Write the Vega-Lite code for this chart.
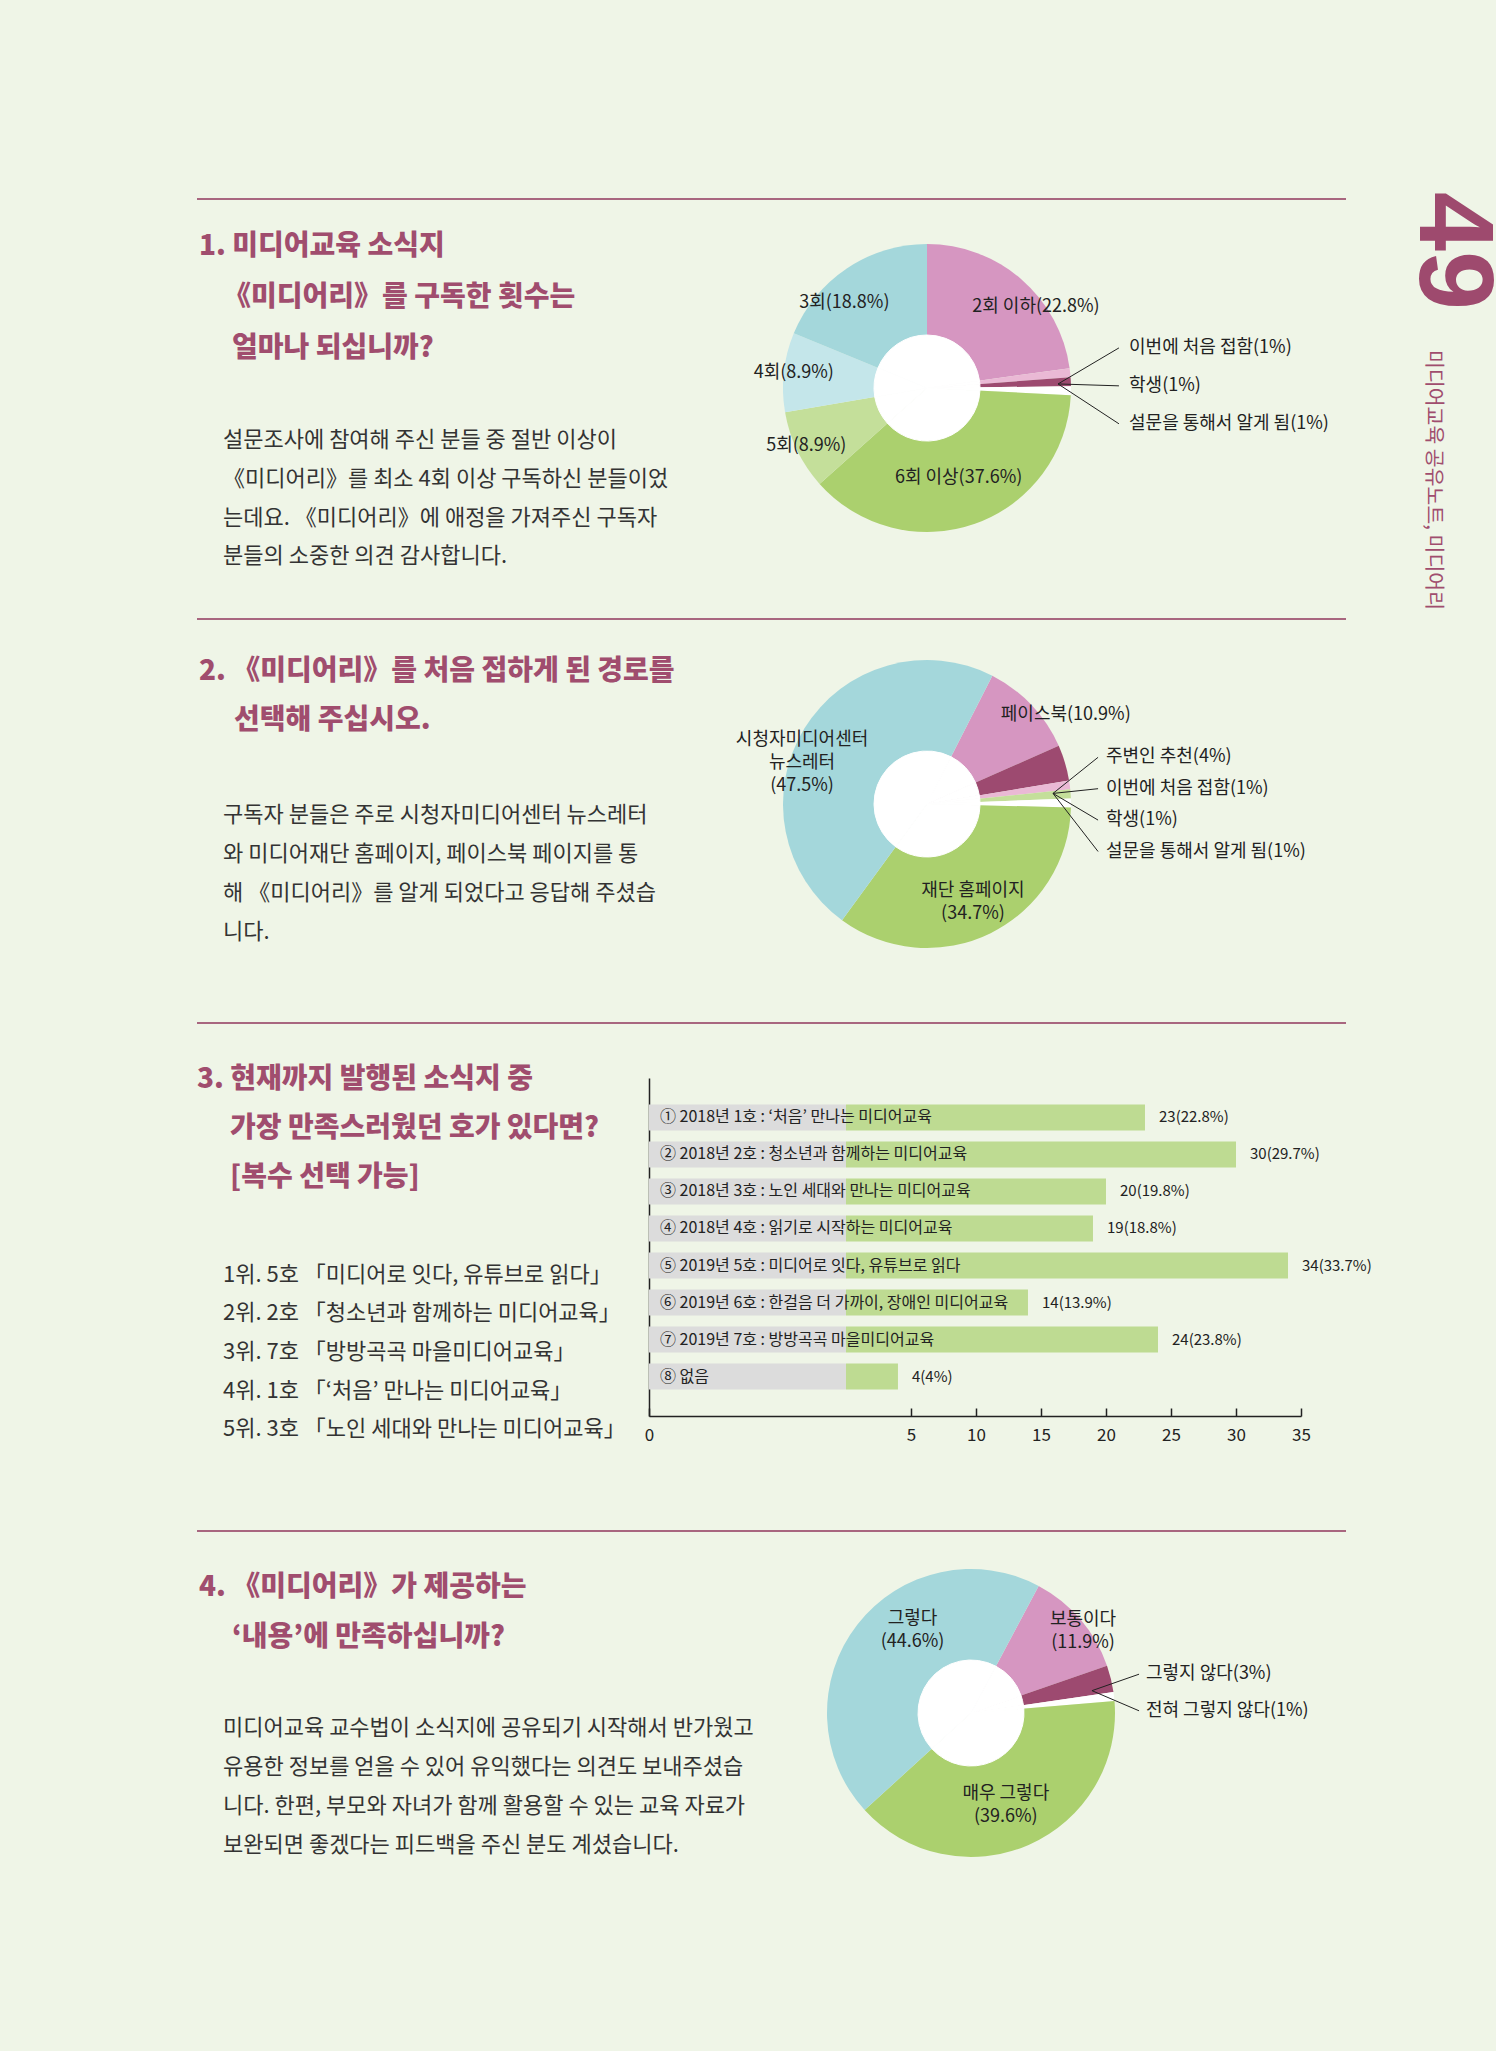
{
  "$schema": "https://vega.github.io/schema/vega-lite/v6.json",
  "background": "#eff5e7",
  "padding": {"left": 196, "top": 0, "right": 0, "bottom": 0},
  "config": {"view": {"stroke": null}, "font": "Noto Sans CJK KR"},
  "spacing": 0,
  "resolve": {"scale": {"color": "independent", "theta": "independent", "x": "independent", "y": "independent"}},
  "hconcat": [
    {
      "spacing": 0,
      "resolve": {"scale": {"color": "independent", "theta": "independent", "x": "independent", "y": "independent"}},
      "vconcat": [
        {
          "width": 1190, "height": 200,
          "data": {"values": [{"k": 1}]},
          "mark": {"type": "rule", "color": "#a8667f", "strokeWidth": 2},
          "encoding": {
            "x": {"datum": 0, "type": "quantitative", "scale": {"domain": [0, 1]}, "axis": null},
            "x2": {"datum": 0.96555},
            "y": {"datum": 0.005, "type": "quantitative", "scale": {"domain": [0, 1]}, "axis": null}
          }
        },
        {
          "spacing": 0,
          "resolve": {"scale": {"color": "independent", "theta": "independent", "x": "independent", "y": "independent"}},
          "hconcat": [
            {
              "spacing": 0,
              "resolve": {"scale": {"x": "independent", "y": "independent"}},
              "vconcat": [
                {
                  "width": 490, "height": 190,
                  "data": {"values": [
                    {"line": 1, "text": "1. 미디어교육 소식지"},
                    {"line": 2, "text": "《미디어리》를 구독한 횟수는"},
                    {"line": 3, "text": "얼마나 되십니까?"}
                  ]},
                  "encoding": {
                    "x": {"datum": 0, "type": "quantitative", "scale": {"domain": [0, 1]}, "axis": null},
                    "y": {"field": "line", "type": "quantitative", "scale": {"domain": [0.082, 3.7929], "reverse": true, "nice": false, "zero": false}, "axis": null},
                    "text": {"field": "text", "type": "nominal"}
                  },
                  "layer": [
                    {"transform": [{"filter": "datum.line === 1"}], "mark": {"type": "text", "align": "left", "baseline": "middle", "fontSize": 28, "fontWeight": 900, "color": "#a04d6e", "dx": 2}},
                    {"transform": [{"filter": "datum.line === 2"}], "mark": {"type": "text", "align": "left", "baseline": "middle", "fontSize": 28, "fontWeight": 900, "color": "#a04d6e", "dx": 26}},
                    {"transform": [{"filter": "datum.line === 3"}], "mark": {"type": "text", "align": "left", "baseline": "middle", "fontSize": 28, "fontWeight": 900, "color": "#a04d6e", "dx": 35}}
                  ]
                },
                {
                  "width": 490, "height": 228,
                  "data": {"values": [
                    {"line": 1, "text": "설문조사에 참여해 주신 분들 중 절반 이상이"},
                    {"line": 2, "text": "《미디어리》를 최소 4회 이상 구독하신 분들이었"},
                    {"line": 3, "text": "는데요. 《미디어리》에 애정을 가져주신 구독자"},
                    {"line": 4, "text": "분들의 소중한 의견 감사합니다."}
                  ]},
                  "mark": {"type": "text", "align": "left", "baseline": "middle", "fontSize": 22, "color": "#333333", "dx": 26},
                  "encoding": {
                    "x": {"datum": 0, "type": "quantitative", "scale": {"domain": [0, 1]}, "axis": null},
                    "y": {"field": "line", "type": "quantitative", "scale": {"domain": [-0.2861, 5.5902], "reverse": true, "nice": false, "zero": false}, "axis": null},
                    "text": {"field": "text", "type": "nominal"}
                  }
                }
              ]
            },
            {
              "width": 480, "height": 376,
              "data": {"values": [
                {"i": 1, "name": "2회 이하", "pct": 22.8, "label": "2회 이하(22.8%)"},
                {"i": 2, "name": "이번에 처음 접함", "pct": 1, "label": "이번에 처음 접함(1%)"},
                {"i": 3, "name": "학생", "pct": 1, "label": "학생(1%)"},
                {"i": 4, "name": "설문을 통해서 알게 됨", "pct": 1, "label": "설문을 통해서 알게 됨(1%)"},
                {"i": 5, "name": "6회 이상", "pct": 37.6, "label": "6회 이상(37.6%)"},
                {"i": 6, "name": "5회", "pct": 8.9, "label": "5회(8.9%)"},
                {"i": 7, "name": "4회", "pct": 8.9, "label": "4회(8.9%)"},
                {"i": 8, "name": "3회", "pct": 18.8, "label": "3회(18.8%)"}
              ]},
              "layer": [
                {
                  "mark": {"type": "arc", "radius": 144},
                  "encoding": {
                    "theta": {"field": "pct", "type": "quantitative", "stack": true, "scale": {"range": [0, 6.2832]}},
                    "order": {"field": "i", "type": "quantitative"},
                    "color": {"field": "name", "type": "nominal", "legend": null, "scale": {
                      "domain": ["2회 이하", "이번에 처음 접함", "학생", "설문을 통해서 알게 됨", "6회 이상", "5회", "4회", "3회"],
                      "range": ["#d696c1", "#eab9d5", "#9d4a70", "#ffffff", "#abd06e", "#c4df9a", "#c4e6ea", "#a4d7db"]
                    }}
                  }
                },
                {
                  "mark": {"type": "arc", "radius": 53, "color": "#ffffff", "stroke": "#ffffff", "strokeWidth": 1},
                  "encoding": {
                    "theta": {"field": "pct", "type": "quantitative", "stack": true},
                    "order": {"field": "i", "type": "quantitative"}
                  }
                },
                {
                  "mark": {"type": "text", "radius": 134, "fontSize": 18, "color": "#222222"},
                  "encoding": {
                    "theta": {"field": "pct", "type": "quantitative", "stack": true},
                    "order": {"field": "i", "type": "quantitative"},
                    "text": {"condition": {"test": "indexof(['5회','4회'], datum.name) < 0", "value": ""}, "field": "label", "type": "nominal"}
                  }
                },
                {
                  "mark": {"type": "text", "radius": 134, "dx": 21, "dy": 20, "fontSize": 18, "color": "#222222"},
                  "encoding": {
                    "theta": {"field": "pct", "type": "quantitative", "stack": true},
                    "order": {"field": "i", "type": "quantitative"},
                    "text": {"condition": {"test": "datum.name !== '2회 이하'", "value": ""}, "field": "label", "type": "nominal"}
                  }
                },
                {
                  "mark": {"type": "text", "radius": 134, "dx": -8, "dy": 26, "fontSize": 18, "color": "#222222"},
                  "encoding": {
                    "theta": {"field": "pct", "type": "quantitative", "stack": true},
                    "order": {"field": "i", "type": "quantitative"},
                    "text": {"condition": {"test": "datum.name !== '3회'", "value": ""}, "field": "label", "type": "nominal"}
                  }
                },
                {
                  "mark": {"type": "text", "radius": 95, "fontSize": 18, "color": "#222222"},
                  "encoding": {
                    "theta": {"field": "pct", "type": "quantitative", "stack": true},
                    "order": {"field": "i", "type": "quantitative"},
                    "text": {"condition": {"test": "datum.name !== '6회 이상'", "value": ""}, "field": "label", "type": "nominal"}
                  }
                },
                {
                  "transform": [{"filter": {"field": "name", "oneOf": ["이번에 처음 접함", "학생", "설문을 통해서 알게 됨"]}}],
                  "mark": {"type": "text", "align": "left", "baseline": "middle", "fontSize": 18, "color": "#222222"},
                  "encoding": {
                    "x": {"datum": 1.403, "type": "quantitative", "scale": {"domain": [-1.6667, 1.6667], "nice": false, "zero": false}, "axis": null},
                    "y": {"field": "i", "type": "quantitative", "scale": {"domain": [-1.8972, 8.0106], "reverse": true, "nice": false, "zero": false}, "axis": null},
                    "text": {"field": "label", "type": "nominal"}
                  }
                },
                {
                  "transform": [{"filter": {"field": "name", "oneOf": ["이번에 처음 접함", "학생", "설문을 통해서 알게 됨"]}}],
                  "mark": {"type": "rule", "color": "#222222", "strokeWidth": 1},
                  "encoding": {
                    "x": {"datum": 1.333, "type": "quantitative"},
                    "x2": {"datum": 0.91},
                    "y": {"field": "i", "type": "quantitative"},
                    "y2": {"datum": 2.95}
                  }
                }
              ]
            }
          ]
        },
        {
          "width": 1190, "height": 2,
          "data": {"values": [{"k": 1}]},
          "mark": {"type": "rule", "color": "#a8667f", "strokeWidth": 2},
          "encoding": {
            "x": {"datum": 0, "type": "quantitative", "scale": {"domain": [0, 1]}, "axis": null},
            "x2": {"datum": 0.96555},
            "y": {"datum": 0.5, "type": "quantitative", "scale": {"domain": [0, 1]}, "axis": null}
          }
        },
        {
          "spacing": 0,
          "resolve": {"scale": {"color": "independent", "theta": "independent", "x": "independent", "y": "independent"}},
          "hconcat": [
            {
              "spacing": 0,
              "resolve": {"scale": {"x": "independent", "y": "independent"}},
              "vconcat": [
                {
                  "width": 510, "height": 150,
                  "data": {"values": [
                    {"line": 1, "text": "2. 《미디어리》를 처음 접하게 된 경로를"},
                    {"line": 2, "text": "선택해 주십시오."}
                  ]},
                  "encoding": {
                    "x": {"datum": 0, "type": "quantitative", "scale": {"domain": [0, 1]}, "axis": null},
                    "y": {"field": "line", "type": "quantitative", "scale": {"domain": [-0.0402, 2.9779], "reverse": true, "nice": false, "zero": false}, "axis": null},
                    "text": {"field": "text", "type": "nominal"}
                  },
                  "layer": [
                    {"transform": [{"filter": "datum.line === 1"}], "mark": {"type": "text", "align": "left", "baseline": "middle", "fontSize": 28, "fontWeight": 900, "color": "#a04d6e", "dx": 2}},
                    {"transform": [{"filter": "datum.line > 1"}], "mark": {"type": "text", "align": "left", "baseline": "middle", "fontSize": 28, "fontWeight": 900, "color": "#a04d6e", "dx": 37}}
                  ]
                },
                {
                  "width": 510, "height": 252,
                  "data": {"values": [
                    {"line": 1, "text": "구독자 분들은 주로 시청자미디어센터 뉴스레터"},
                    {"line": 2, "text": "와 미디어재단 홈페이지, 페이스북 페이지를 통"},
                    {"line": 3, "text": "해 《미디어리》를 알게 되었다고 응답해 주셨습"},
                    {"line": 4, "text": "니다."}
                  ]},
                  "mark": {"type": "text", "align": "left", "baseline": "middle", "fontSize": 22, "color": "#333333", "dx": 26},
                  "encoding": {
                    "x": {"datum": 0, "type": "quantitative", "scale": {"domain": [0, 1]}, "axis": null},
                    "y": {"field": "line", "type": "quantitative", "scale": {"domain": [-0.1454, 6.2832], "reverse": true, "nice": false, "zero": false}, "axis": null},
                    "text": {"field": "text", "type": "nominal"}
                  }
                }
              ]
            },
            {
              "width": 440, "height": 368,
              "data": {"values": [
                {"i": 1, "name": "페이스북", "pct": 10.9, "label": "페이스북(10.9%)"},
                {"i": 2, "name": "주변인 추천", "pct": 4, "label": "주변인 추천(4%)"},
                {"i": 3, "name": "이번에 처음 접함", "pct": 1, "label": "이번에 처음 접함(1%)"},
                {"i": 4, "name": "학생", "pct": 1, "label": "학생(1%)"},
                {"i": 5, "name": "설문을 통해서 알게 됨", "pct": 1, "label": "설문을 통해서 알게 됨(1%)"},
                {"i": 6, "name": "재단 홈페이지", "pct": 34.7, "label": "재단 홈페이지\n(34.7%)"},
                {"i": 7, "name": "시청자미디어센터 뉴스레터", "pct": 47.5, "label": "시청자미디어센터\n뉴스레터\n(47.5%)"}
              ]},
              "layer": [
                {
                  "mark": {"type": "arc", "radius": 144},
                  "encoding": {
                    "theta": {"field": "pct", "type": "quantitative", "stack": true, "scale": {"range": [0.471, 6.7542]}},
                    "order": {"field": "i", "type": "quantitative"},
                    "color": {"field": "name", "type": "nominal", "legend": null, "scale": {
                      "domain": ["페이스북", "주변인 추천", "이번에 처음 접함", "학생", "설문을 통해서 알게 됨", "재단 홈페이지", "시청자미디어센터 뉴스레터"],
                      "range": ["#d696c1", "#9d4a70", "#eab9d5", "#c4df9a", "#ffffff", "#abd06e", "#a4d7db"]
                    }}
                  }
                },
                {
                  "mark": {"type": "arc", "radius": 53, "color": "#ffffff", "stroke": "#ffffff", "strokeWidth": 1},
                  "encoding": {
                    "theta": {"field": "pct", "type": "quantitative", "stack": true},
                    "order": {"field": "i", "type": "quantitative"}
                  }
                },
                {
                  "mark": {"type": "text", "radius": 122, "dx": -21, "fontSize": 18, "color": "#222222", "lineBreak": "\n", "lineHeight": 23},
                  "encoding": {
                    "theta": {"field": "pct", "type": "quantitative", "stack": true},
                    "order": {"field": "i", "type": "quantitative"},
                    "text": {"condition": {"test": "datum.name !== '시청자미디어센터 뉴스레터'", "value": ""}, "field": "label", "type": "nominal"}
                  }
                },
                {
                  "mark": {"type": "text", "radius": 122, "dx": -8, "dy": -22, "fontSize": 18, "color": "#222222", "lineBreak": "\n", "lineHeight": 23},
                  "encoding": {
                    "theta": {"field": "pct", "type": "quantitative", "stack": true},
                    "order": {"field": "i", "type": "quantitative"},
                    "text": {"condition": {"test": "datum.name !== '재단 홈페이지'", "value": ""}, "field": "label", "type": "nominal"}
                  }
                },
                {
                  "mark": {"type": "text", "radius": 158, "dx": 24, "dy": 20, "fontSize": 18, "color": "#222222"},
                  "encoding": {
                    "theta": {"field": "pct", "type": "quantitative", "stack": true},
                    "order": {"field": "i", "type": "quantitative"},
                    "text": {"condition": {"test": "datum.name !== '페이스북'", "value": ""}, "field": "label", "type": "nominal"}
                  }
                },
                {
                  "transform": [{"filter": {"field": "name", "oneOf": ["주변인 추천", "이번에 처음 접함", "학생", "설문을 통해서 알게 됨"]}}],
                  "mark": {"type": "text", "align": "left", "baseline": "middle", "fontSize": 18, "color": "#222222"},
                  "encoding": {
                    "x": {"datum": 1.243, "type": "quantitative", "scale": {"domain": [-1.5278, 1.5278], "nice": false, "zero": false}, "axis": null},
                    "y": {"field": "i", "type": "quantitative", "scale": {"domain": [-2.3726, 9.3471], "reverse": true, "nice": false, "zero": false}, "axis": null},
                    "text": {"field": "label", "type": "nominal"}
                  }
                },
                {
                  "transform": [{"filter": {"field": "name", "oneOf": ["주변인 추천", "이번에 처음 접함", "학생", "설문을 통해서 알게 됨"]}}],
                  "mark": {"type": "rule", "color": "#222222", "strokeWidth": 1},
                  "encoding": {
                    "x": {"datum": 1.188, "type": "quantitative"},
                    "x2": {"datum": 0.875},
                    "y": {"field": "i", "type": "quantitative"},
                    "y2": {"datum": 3.15}
                  }
                }
              ]
            }
          ]
        },
        {
          "width": 1190, "height": 2,
          "data": {"values": [{"k": 1}]},
          "mark": {"type": "rule", "color": "#a8667f", "strokeWidth": 2},
          "encoding": {
            "x": {"datum": 0, "type": "quantitative", "scale": {"domain": [0, 1]}, "axis": null},
            "x2": {"datum": 0.96555},
            "y": {"datum": 0.5, "type": "quantitative", "scale": {"domain": [0, 1]}, "axis": null}
          }
        },
        {
          "spacing": 0,
          "resolve": {"scale": {"color": "independent", "theta": "independent", "x": "independent", "y": "independent"}},
          "hconcat": [
            {
              "spacing": 0,
              "resolve": {"scale": {"x": "independent", "y": "independent"}},
              "vconcat": [
                {
                  "width": 447, "height": 200,
                  "data": {"values": [
                    {"line": 1, "text": "3. 현재까지 발행된 소식지 중"},
                    {"line": 2, "text": "가장 만족스러웠던 호가 있다면?"},
                    {"line": 3, "text": "[복수 선택 가능]"}
                  ]},
                  "encoding": {
                    "x": {"datum": 0, "type": "quantitative", "scale": {"domain": [0, 1]}, "axis": null},
                    "y": {"field": "line", "type": "quantitative", "scale": {"domain": [-0.1498, 3.9277], "reverse": true, "nice": false, "zero": false}, "axis": null},
                    "text": {"field": "text", "type": "nominal"}
                  },
                  "layer": [
                    {"transform": [{"filter": "datum.line === 1"}], "mark": {"type": "text", "align": "left", "baseline": "middle", "fontSize": 28, "fontWeight": 900, "color": "#a04d6e"}},
                    {"transform": [{"filter": "datum.line > 1"}], "mark": {"type": "text", "align": "left", "baseline": "middle", "fontSize": 28, "fontWeight": 900, "color": "#a04d6e", "dx": 33}}
                  ]
                },
                {
                  "width": 447, "height": 306,
                  "data": {"values": [
                    {"line": 1, "text": "1위. 5호 「미디어로 잇다, 유튜브로 읽다」"},
                    {"line": 2, "text": "2위. 2호 「청소년과 함께하는 미디어교육」"},
                    {"line": 3, "text": "3위. 7호 「방방곡곡 마을미디어교육」"},
                    {"line": 4, "text": "4위. 1호 「‘처음’ 만나는 미디어교육」"},
                    {"line": 5, "text": "5위. 3호 「노인 세대와 만나는 미디어교육」"}
                  ]},
                  "mark": {"type": "text", "align": "left", "baseline": "middle", "fontSize": 22, "color": "#333333", "dx": 26},
                  "encoding": {
                    "x": {"datum": 0, "type": "quantitative", "scale": {"domain": [0, 1]}, "axis": null},
                    "y": {"field": "line", "type": "quantitative", "scale": {"domain": [-0.3135, 7.614], "reverse": true, "nice": false, "zero": false}, "axis": null},
                    "text": {"field": "text", "type": "nominal"}
                  }
                }
              ]
            },
            {
              "spacing": 0,
              "resolve": {"scale": {"x": "independent", "y": "independent"}},
              "vconcat": [
                {
                  "width": 652, "height": 54,
                  "mark": {"type": "text"},
                  "encoding": {}
                },
                {
                  "width": 652, "height": 338,
                  "data": {"values": [
                    {"issue": "① 2018년 1호 : ‘처음’ 만나는 미디어교육", "count": 23, "vlabel": "23(22.8%)"},
                    {"issue": "② 2018년 2호 : 청소년과 함께하는 미디어교육", "count": 30, "vlabel": "30(29.7%)"},
                    {"issue": "③ 2018년 3호 : 노인 세대와 만나는 미디어교육", "count": 20, "vlabel": "20(19.8%)"},
                    {"issue": "④ 2018년 4호 : 읽기로 시작하는 미디어교육", "count": 19, "vlabel": "19(18.8%)"},
                    {"issue": "⑤ 2019년 5호 : 미디어로 잇다, 유튜브로 읽다", "count": 34, "vlabel": "34(33.7%)"},
                    {"issue": "⑥ 2019년 6호 : 한걸음 더 가까이, 장애인 미디어교육", "count": 14, "vlabel": "14(13.9%)"},
                    {"issue": "⑦ 2019년 7호 : 방방곡곡 마을미디어교육", "count": 24, "vlabel": "24(23.8%)"},
                    {"issue": "⑧ 없음", "count": 4, "vlabel": "4(4%)"}
                  ]},
                  "encoding": {
                    "y": {"field": "issue", "type": "nominal", "sort": null, "scale": {"paddingInner": 0.3, "paddingOuter": 0.717},
                      "axis": {"title": null, "labels": false, "ticks": false, "grid": false, "domain": true, "domainColor": "#222222", "domainWidth": 1.5}}
                  },
                  "layer": [
                    {
                      "mark": {"type": "bar", "color": "#dcdcdc"},
                      "encoding": {
                        "x": {"datum": -15.15, "type": "quantitative", "scale": {"domain": [-15.15, 35], "nice": false, "zero": false},
                          "axis": {"title": null, "values": [-15.15, 5, 10, 15, 20, 25, 30, 35], "labelExpr": "datum.value < 0 ? '0' : datum.label", "grid": false, "tickSize": -8, "tickColor": "#222222", "tickWidth": 1.5, "domainColor": "#222222", "domainWidth": 1.5, "labelPadding": 19, "labelFontSize": 17, "labelColor": "#222222", "labelFlush": false, "labelOverlap": false}},
                        "x2": {"datum": 0}
                      }
                    },
                    {
                      "mark": {"type": "bar", "color": "#bedb92"},
                      "encoding": {
                        "x": {"field": "count", "type": "quantitative"},
                        "x2": {"datum": 0}
                      }
                    },
                    {
                      "mark": {"type": "text", "align": "left", "baseline": "middle", "dx": 11, "fontSize": 16, "color": "#222222"},
                      "encoding": {
                        "x": {"datum": -15.15, "type": "quantitative"},
                        "text": {"field": "issue", "type": "nominal"}
                      }
                    },
                    {
                      "mark": {"type": "text", "align": "left", "baseline": "middle", "dx": 14, "fontSize": 15, "color": "#222222"},
                      "encoding": {
                        "x": {"field": "count", "type": "quantitative"},
                        "text": {"field": "vlabel", "type": "nominal"}
                      }
                    }
                  ]
                }
              ]
            }
          ]
        },
        {
          "width": 1190, "height": 2,
          "data": {"values": [{"k": 1}]},
          "mark": {"type": "rule", "color": "#a8667f", "strokeWidth": 2},
          "encoding": {
            "x": {"datum": 0, "type": "quantitative", "scale": {"domain": [0, 1]}, "axis": null},
            "x2": {"datum": 0.96555},
            "y": {"datum": 0.5, "type": "quantitative", "scale": {"domain": [0, 1]}, "axis": null}
          }
        },
        {
          "spacing": 0,
          "resolve": {"scale": {"color": "independent", "theta": "independent", "x": "independent", "y": "independent"}},
          "hconcat": [
            {
              "spacing": 0,
              "resolve": {"scale": {"x": "independent", "y": "independent"}},
              "vconcat": [
                {
                  "width": 580, "height": 150,
                  "data": {"values": [
                    {"line": 1, "text": "4. 《미디어리》가 제공하는"},
                    {"line": 2, "text": "‘내용’에 만족하십니까?"}
                  ]},
                  "encoding": {
                    "x": {"datum": 0, "type": "quantitative", "scale": {"domain": [0, 1]}, "axis": null},
                    "y": {"field": "line", "type": "quantitative", "scale": {"domain": [-0.1247, 2.8934], "reverse": true, "nice": false, "zero": false}, "axis": null},
                    "text": {"field": "text", "type": "nominal"}
                  },
                  "layer": [
                    {"transform": [{"filter": "datum.line === 1"}], "mark": {"type": "text", "align": "left", "baseline": "middle", "fontSize": 28, "fontWeight": 900, "color": "#a04d6e", "dx": 2}},
                    {"transform": [{"filter": "datum.line > 1"}], "mark": {"type": "text", "align": "left", "baseline": "middle", "fontSize": 28, "fontWeight": 900, "color": "#a04d6e", "dx": 35}}
                  ]
                },
                {
                  "width": 580, "height": 369,
                  "data": {"values": [
                    {"line": 1, "text": "미디어교육 교수법이 소식지에 공유되기 시작해서 반가웠고"},
                    {"line": 2, "text": "유용한 정보를 얻을 수 있어 유익했다는 의견도 보내주셨습"},
                    {"line": 3, "text": "니다. 한편, 부모와 자녀가 함께 활용할 수 있는 교육 자료가"},
                    {"line": 4, "text": "보완되면 좋겠다는 피드백을 주신 분도 계셨습니다."}
                  ]},
                  "mark": {"type": "text", "align": "left", "baseline": "middle", "fontSize": 22, "color": "#333333", "dx": 26},
                  "encoding": {
                    "x": {"datum": 0, "type": "quantitative", "scale": {"domain": [0, 1]}, "axis": null},
                    "y": {"field": "line", "type": "quantitative", "scale": {"domain": [-0.1709, 9.2424], "reverse": true, "nice": false, "zero": false}, "axis": null},
                    "text": {"field": "text", "type": "nominal"}
                  }
                }
              ]
            },
            {
              "width": 388, "height": 362,
              "data": {"values": [
                {"i": 1, "name": "보통이다", "pct": 11.9, "label": "보통이다\n(11.9%)"},
                {"i": 2, "name": "그렇지 않다", "pct": 3, "label": "그렇지 않다(3%)"},
                {"i": 3, "name": "전혀 그렇지 않다", "pct": 1, "label": "전혀 그렇지 않다(1%)"},
                {"i": 4, "name": "매우 그렇다", "pct": 39.6, "label": "매우 그렇다\n(39.6%)"},
                {"i": 5, "name": "그렇다", "pct": 44.6, "label": "그렇다\n(44.6%)"}
              ]},
              "layer": [
                {
                  "mark": {"type": "arc", "radius": 144},
                  "encoding": {
                    "theta": {"field": "pct", "type": "quantitative", "stack": true, "scale": {"range": [0.489, 6.7722]}},
                    "order": {"field": "i", "type": "quantitative"},
                    "color": {"field": "name", "type": "nominal", "legend": null, "scale": {
                      "domain": ["보통이다", "그렇지 않다", "전혀 그렇지 않다", "매우 그렇다", "그렇다"],
                      "range": ["#d696c1", "#9d4a70", "#ffffff", "#abd06e", "#a4d7db"]
                    }}
                  }
                },
                {
                  "mark": {"type": "arc", "radius": 53, "color": "#ffffff", "stroke": "#ffffff", "strokeWidth": 1},
                  "encoding": {
                    "theta": {"field": "pct", "type": "quantitative", "stack": true},
                    "order": {"field": "i", "type": "quantitative"}
                  }
                },
                {
                  "mark": {"type": "text", "radius": 112, "dx": 30, "dy": -25, "fontSize": 18, "color": "#222222", "lineBreak": "\n", "lineHeight": 23},
                  "encoding": {
                    "theta": {"field": "pct", "type": "quantitative", "stack": true},
                    "order": {"field": "i", "type": "quantitative"},
                    "text": {"condition": {"test": "datum.name !== '그렇다'", "value": ""}, "field": "label", "type": "nominal"}
                  }
                },
                {
                  "mark": {"type": "text", "radius": 112, "dx": 27, "dy": -20, "fontSize": 18, "color": "#222222", "lineBreak": "\n", "lineHeight": 23},
                  "encoding": {
                    "theta": {"field": "pct", "type": "quantitative", "stack": true},
                    "order": {"field": "i", "type": "quantitative"},
                    "text": {"condition": {"test": "datum.name !== '보통이다'", "value": ""}, "field": "label", "type": "nominal"}
                  }
                },
                {
                  "mark": {"type": "text", "radius": 112, "dx": -10, "dy": -22, "fontSize": 18, "color": "#222222", "lineBreak": "\n", "lineHeight": 23},
                  "encoding": {
                    "theta": {"field": "pct", "type": "quantitative", "stack": true},
                    "order": {"field": "i", "type": "quantitative"},
                    "text": {"condition": {"test": "datum.name !== '매우 그렇다'", "value": ""}, "field": "label", "type": "nominal"}
                  }
                },
                {
                  "transform": [{"filter": {"field": "name", "oneOf": ["그렇지 않다", "전혀 그렇지 않다"]}}],
                  "mark": {"type": "text", "align": "left", "baseline": "middle", "fontSize": 18, "color": "#222222"},
                  "encoding": {
                    "x": {"datum": 1.215, "type": "quantitative", "scale": {"domain": [-1.3472, 1.3472], "nice": false, "zero": false}, "axis": null},
                    "y": {"field": "i", "type": "quantitative", "scale": {"domain": [-1.8852, 8.0055], "reverse": true, "nice": false, "zero": false}, "axis": null},
                    "text": {"field": "label", "type": "nominal"}
                  }
                },
                {
                  "transform": [{"filter": {"field": "name", "oneOf": ["그렇지 않다", "전혀 그렇지 않다"]}}],
                  "mark": {"type": "rule", "color": "#222222", "strokeWidth": 1},
                  "encoding": {
                    "x": {"datum": 1.167, "type": "quantitative"},
                    "x2": {"datum": 0.84},
                    "y": {"field": "i", "type": "quantitative"},
                    "y2": {"datum": 2.45}
                  }
                }
              ]
            }
          ]
        }
      ]
    },
    {
      "width": 109, "height": 2051,
      "data": {"values": [
        {"k": 1, "item": "page", "text": "49"},
        {"k": 2, "item": "caption", "text": "미디어교육 공유노트, 미디어리"}
      ]},
      "encoding": {
        "y": {"field": "k", "type": "quantitative", "scale": {"domain": [-0.0961, 8.8602], "reverse": true, "nice": false, "zero": false}, "axis": null},
        "text": {"field": "text", "type": "nominal"}
      },
      "layer": [
        {
          "transform": [{"filter": "datum.item === 'page'"}],
          "mark": {"type": "text", "angle": 90, "align": "center", "baseline": "alphabetic", "dy": 21.5, "font": "Liberation Sans Narrow, Liberation Sans, sans-serif", "fontWeight": "bold", "fontSize": 106, "color": "#9e4a6e", "clip": true}
        },
        {
          "transform": [{"filter": "datum.item === 'caption'"}],
          "mark": {"type": "text", "angle": 90, "align": "center", "baseline": "middle", "dy": 8.5, "fontSize": 20.5, "color": "#a04d6e"}
        }
      ]
    },
    {
      "width": 8, "height": 2051,
      "view": {"fill": "#ffffff", "stroke": null},
      "mark": {"type": "text"},
      "encoding": {}
    }
  ]
}
